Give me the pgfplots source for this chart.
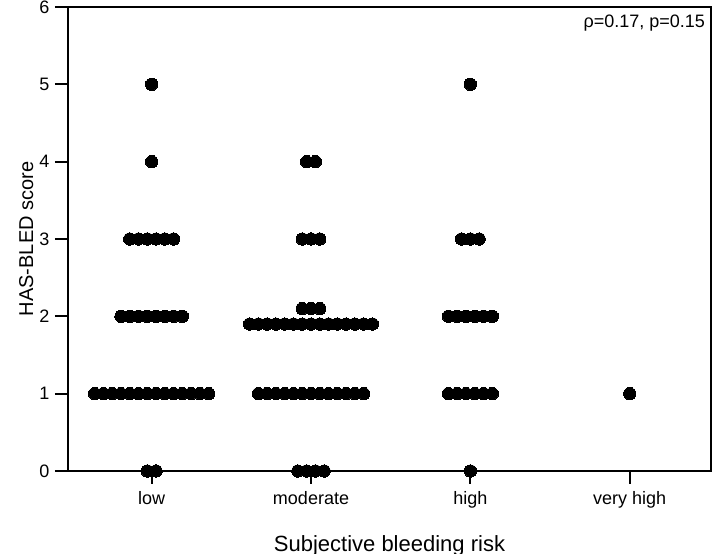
\documentclass[border=0pt]{standalone}
\usepackage{fontspec}
\setmainfont{Liberation Sans}
\usepackage{pgfplots}
\pgfplotsset{compat=1.18}
\usetikzlibrary{calc}
\begin{document}
\begin{tikzpicture}
\begin{axis}[
  scale only axis, width=321.5pt, height=232pt,
  xmin=-0.525, xmax=3.51, ymin=0, ymax=6,
  xtick={0,1,2,3}, xticklabels={low,moderate,high,very high},
  ytick={0,1,2,3,4,5,6},
  xtick pos=bottom, ytick pos=left, tick align=outside,
  major tick length=6.5pt,
  line width=1pt,
  every tick/.style={black, line width=1pt},
  tick label style={font=\fontsize{9}{10}\selectfont},
  yticklabel style={xshift=1pt},
  /pgf/number format/assume math mode=true,
  xlabel={Subjective bleeding risk}, ylabel={HAS-BLED score},
  xlabel style={font=\fontsize{11}{13}\selectfont, at={(axis description cs:0.5,0)}, anchor=base, yshift=-40.5pt},
  ylabel style={font=\fontsize{10}{12}\selectfont, at={(axis description cs:-0.065,0.5)}, anchor=center},
  clip=false,
]
\coordinate (sw) at (rel axis cs:0,0);
\coordinate (ne) at (rel axis cs:1,1);
% low
\addplot[only marks, mark=*, mark size=3.1pt, mark options={fill=black, draw=black, line width=0pt}] coordinates {
 (-0.0275,0)(0.0275,0)
 (-0.3575,1)(-0.3025,1)(-0.2475,1)(-0.1925,1)(-0.1375,1)(-0.0825,1)(-0.0275,1)(0.0275,1)(0.0825,1)(0.1375,1)(0.1925,1)(0.2475,1)(0.3025,1)(0.3575,1)
 (-0.1925,2)(-0.1375,2)(-0.0825,2)(-0.0275,2)(0.0275,2)(0.0825,2)(0.1375,2)(0.1925,2)
 (-0.1375,3)(-0.0825,3)(-0.0275,3)(0.0275,3)(0.0825,3)(0.1375,3)
 (0,4)(0,5)
};
% moderate
\addplot[only marks, mark=*, mark size=3.1pt, mark options={fill=black, draw=black, line width=0pt}] coordinates {
 (0.9175,0)(0.9725,0)(1.0275,0)(1.0825,0)
 (0.67,1)(0.725,1)(0.78,1)(0.835,1)(0.89,1)(0.945,1)(1,1)(1.055,1)(1.11,1)(1.165,1)(1.22,1)(1.275,1)(1.33,1)
 (0.615,1.9)(0.67,1.9)(0.725,1.9)(0.78,1.9)(0.835,1.9)(0.89,1.9)(0.945,1.9)(1,1.9)(1.055,1.9)(1.11,1.9)(1.165,1.9)(1.22,1.9)(1.275,1.9)(1.33,1.9)(1.385,1.9)
 (0.945,2.1)(1,2.1)(1.055,2.1)
 (0.945,3)(1,3)(1.055,3)
 (0.9725,4)(1.0275,4)
};
% high
\addplot[only marks, mark=*, mark size=3.1pt, mark options={fill=black, draw=black, line width=0pt}] coordinates {
 (2,0)
 (1.8625,1)(1.9175,1)(1.9725,1)(2.0275,1)(2.0825,1)(2.1375,1)
 (1.8625,2)(1.9175,2)(1.9725,2)(2.0275,2)(2.0825,2)(2.1375,2)
 (1.945,3)(2,3)(2.055,3)
 (2,5)
};
% very high
\addplot[only marks, mark=*, mark size=3.1pt, mark options={fill=black, draw=black, line width=0pt}] coordinates {
 (3,1)
};
\node[anchor=base east, inner sep=0pt, font=\fontsize{9}{10}\selectfont, xshift=-2.5pt, yshift=-10.5pt] at (rel axis cs:1,1) {ρ=0.17, p=0.15};
\end{axis}
\pgfresetboundingbox
\path[use as bounding box] ($(sw)+(-34pt,-41.5pt)$) rectangle ($(ne)+(1.5pt,3.5pt)$);
\end{tikzpicture}
\end{document}
